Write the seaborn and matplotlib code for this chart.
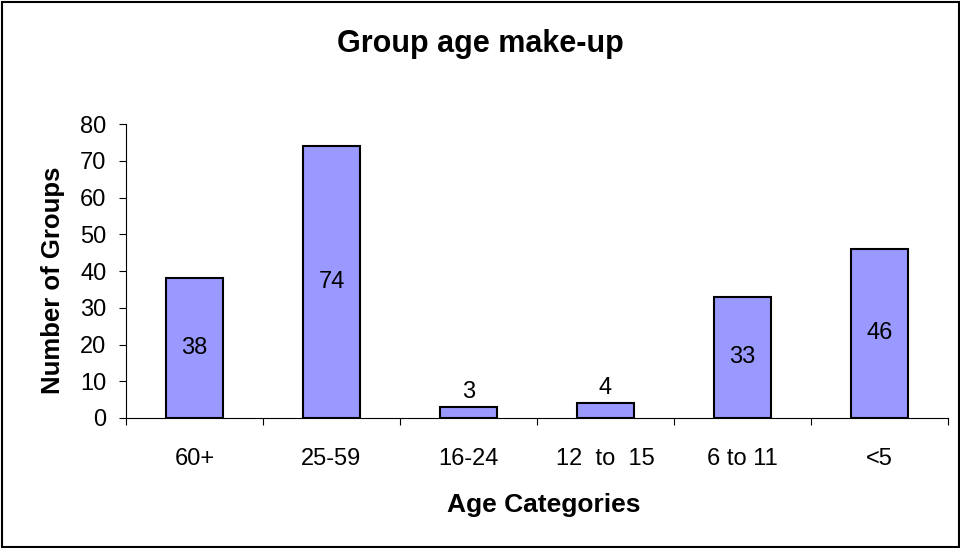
import matplotlib
matplotlib.use("Agg")
import matplotlib.pyplot as plt
import seaborn as sns
import pandas as pd
from matplotlib.patches import Rectangle

categories = ["60+", "25-59", "16-24", "12  to  15", "6 to 11", "<5"]
groups = [38, 74, 3, 4, 33, 46]

df = pd.DataFrame({"age": categories, "groups": groups})

sns.set_style("white")
plt.rcParams["font.family"] = ["Liberation Sans", "DejaVu Sans"]
plt.rcParams["text.color"] = "black"
plt.rcParams["axes.labelcolor"] = "black"
plt.rcParams["xtick.color"] = "black"
plt.rcParams["ytick.color"] = "black"

W, H = 960, 548
fig = plt.figure(figsize=(9.6, 5.48), dpi=100)
ax = fig.add_axes([126 / W, 1 - 418 / H, (948 - 126) / W, (418 - 124) / H])

sns.barplot(data=df, x="age", y="groups", color="#9999FF", width=0.41,
            edgecolor="black", linewidth=1.5, saturation=1, ax=ax)

# value labels: centred in the bar, above it when the bar is too short
for bar, v in zip(ax.patches, groups):
    x = bar.get_x() + bar.get_width() / 2
    if v > 10:
        ax.text(x, v / 2, str(v), ha="center", va="center", fontsize=17)
    else:
        ax.text(x, v + 1.2, str(v), ha="center", va="bottom", fontsize=17)

ax.set_ylim(0, 80)
ax.set_xlim(-0.5, 5.5)
ax.set_yticks(range(0, 81, 10))
ax.set_xticks([i - 0.5 for i in range(7)])
ax.set_xticklabels([])
ax.set_xticks(range(6), minor=True)
ax.set_xticklabels(categories, minor=True, fontsize=17)
ax.tick_params(axis="x", which="minor", bottom=True, length=0, pad=21.5)
ax.tick_params(axis="x", which="major", bottom=True, length=5, width=0.8, direction="out")
ax.tick_params(axis="y", left=True, length=5, width=0.8, direction="out", labelsize=17, pad=9)

for s in ["top", "right"]:
    ax.spines[s].set_visible(False)
for s in ["left", "bottom"]:
    ax.spines[s].set_color("black")
    ax.spines[s].set_linewidth(0.8)

ax.set_xlabel("")
ax.set_ylabel("")
fig.text(544 / W, 1 - 512 / H, "Age Categories", ha="center", va="baseline",
         fontsize=19, fontweight="bold")
fig.text(53 / W, 1 - 280 / H, "Number of Groups", ha="center", va="center",
         rotation=90, fontsize=18.5, fontweight="bold")
fig.text(0.5, 1 - 52 / H, "Group age make-up", ha="center", va="baseline",
         fontsize=22, fontweight="bold")

fig.patches.append(Rectangle((1.5 / W, 1.5 / H), 1 - 3 / W, 1 - 3 / H, transform=fig.transFigure,
                             fill=False, edgecolor="black", linewidth=1.5))

fig.savefig("out.png", dpi=100)
